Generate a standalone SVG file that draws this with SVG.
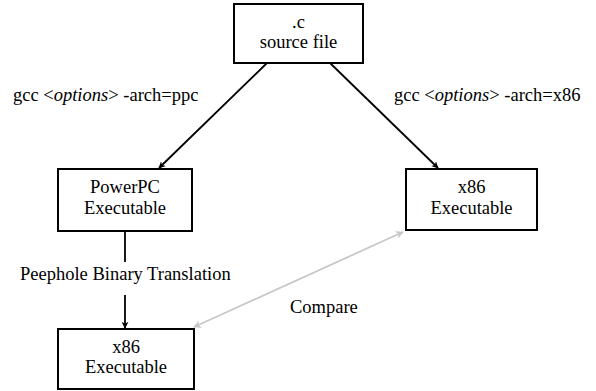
<svg xmlns="http://www.w3.org/2000/svg" width="596" height="391" viewBox="0 0 596 391">
<style>
.box{fill:#fff;stroke:#000;stroke-width:2}
text{font-family:"Liberation Serif","Times New Roman",Tinos,serif;font-size:18.5px;fill:#000}
.c{text-anchor:middle}
.e{stroke:#000;stroke-width:1.8;fill:none}
.g{stroke:#c8c8c8;stroke-width:1.8;fill:none}
</style>
<defs>
<marker id="ah" viewBox="0 0 10 10" refX="9" refY="5" markerWidth="7" markerHeight="7" orient="auto" markerUnits="userSpaceOnUse">
<path d="M0,0 L10,5 L0,10 L3,5 Z" fill="#000"/>
</marker>
<marker id="ag" viewBox="0 0 10 10" refX="9" refY="5" markerWidth="8" markerHeight="8" orient="auto-start-reverse" markerUnits="userSpaceOnUse">
<path d="M0,0 L10,5 L0,10 L3,5 Z" fill="#c8c8c8"/>
</marker>
</defs>
<g id="connectors">
<line class="e" x1="267" y1="63" x2="159" y2="168" marker-end="url(#ah)"/>
<line class="e" x1="330" y1="63" x2="438" y2="168" marker-end="url(#ah)"/>
<line class="e" x1="125" y1="231" x2="125" y2="262"/>
<line class="e" x1="125" y1="295" x2="125" y2="328" marker-end="url(#ah)"/>
<line class="g" x1="403" y1="232" x2="194" y2="327" marker-start="url(#ag)" marker-end="url(#ag)"/>
<text x="13" y="101">gcc &lt;<tspan font-style="italic">options</tspan>&gt; -arch=ppc</text>
<text x="394" y="101">gcc &lt;<tspan font-style="italic">options</tspan>&gt; -arch=x86</text>
<text x="20" y="280">Peephole Binary Translation</text>
<text x="290" y="313">Compare</text>
</g>
<g id="source">
<rect class="box" x="234" y="4" width="129" height="59"/>
<text class="c" x="298.5" y="28">.c</text>
<text class="c" x="298.5" y="48">source file</text>
</g>
<g id="ppc">
<rect class="box" x="58" y="169" width="134" height="62"/>
<text class="c" x="125" y="193">PowerPC</text>
<text class="c" x="125" y="214">Executable</text>
</g>
<g id="x86right">
<rect class="box" x="406" y="169" width="131" height="61"/>
<text class="c" x="471.5" y="193">x86</text>
<text class="c" x="471.5" y="214">Executable</text>
</g>
<g id="x86bottom">
<rect class="box" x="58" y="329" width="136" height="60"/>
<text class="c" x="126" y="353">x86</text>
<text class="c" x="126" y="373">Executable</text>
</g>
</svg>
